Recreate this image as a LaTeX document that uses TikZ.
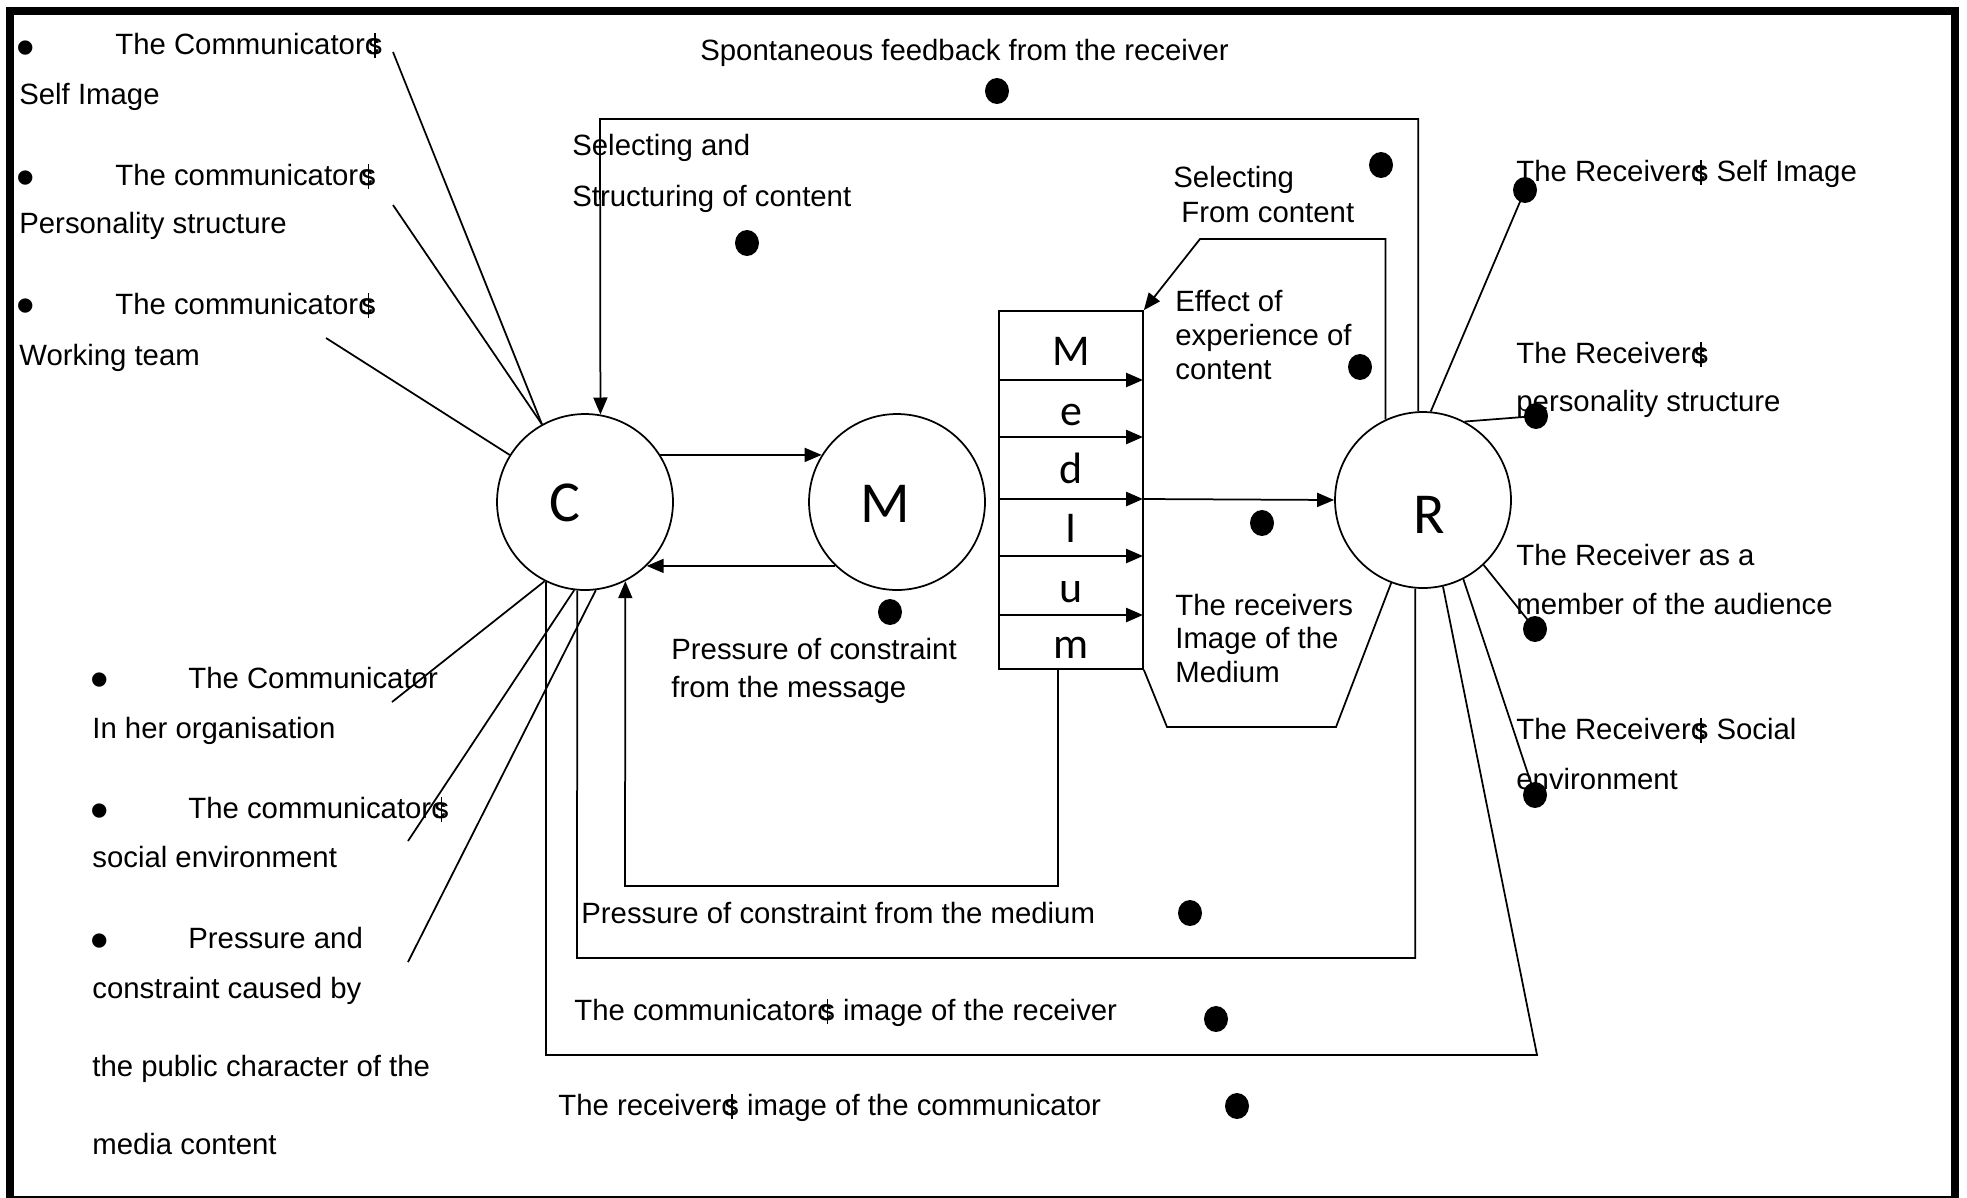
\documentclass[tikz,border=0pt]{standalone}
\usepackage{fontspec}
\setmainfont{Liberation Sans}
\newfontfamily\calfont{Carlito}
\usetikzlibrary{arrows.meta,shapes.geometric}
\newcommand\qs{\rlap{c}\hspace{0.1em}\rlap{\hspace{0.22em}\rule[-0.12em]{0.06em}{0.84em}}s}
\begin{document}
\begin{tikzpicture}[x=0.02cm, y=-0.02cm,
  ln/.style={line width=0.035cm},
  arr/.style={ln, -{Triangle[length=0.34cm,width=0.28cm]}},
  marr/.style={line width=0.05cm, -{Triangle[length=0.34cm,width=0.28cm]}},
  txt/.style={inner sep=0pt, anchor=base west, font=\fontsize{16.7}{20}\selectfont},
  bul/.style={inner sep=0pt, anchor=base west, font=\fontsize{30}{30}\selectfont},
  big/.style={inner sep=0pt, anchor=base, font=\calfont\fontsize{33}{36}\selectfont},
  medl/.style={inner sep=0pt, anchor=base, font=\calfont\fontsize{25}{28}\selectfont},
  ball/.style={ellipse, fill=black, minimum width=0.48cm, minimum height=0.52cm, inner sep=0pt},
  circ/.style={circle, draw, ln, minimum size=3.52cm, inner sep=0pt}]
\useasboundingbox (0,0) rectangle (1967,1197);
\draw[line width=0.17cm] (10,11) rectangle (1955,1200);

% main circles
\node[circ] (C) at (585,502) {};
\node[circ] (M) at (897,502) {};
\node[circ] (R) at (1423,500) {};
\node[big] (Cl) at (565,521) {C};
\node[big] (Ml) at (885,522) {M};
\node[big] (Rl) at (1429,533) {R};

% medium box
\node[draw, ln, minimum width=2.88cm, minimum height=7.16cm, inner sep=0pt] (Med) at (1071,490) {};
\node[medl] (m1) at (1071,365) {M};
\node[medl] (m2) at (1071,425) {e};
\node[medl] (m3) at (1071,483) {d};
\node[medl] (m4) at (1071,542) {I};
\node[medl] (m5) at (1071,602) {u};
\node[medl] (m6) at (1071,658) {m};
\foreach \i/\y in {1/380,2/437,3/499,4/556,5/615} {
  \coordinate (al\i) at (999,\y);
  \coordinate (ar\i) at (1143,\y);
  \draw[marr] (al\i) -- (ar\i);
}
\draw[arr] (ar3) -- (R.west);

% C <-> M
\draw[arr] (C.32) -- (M.148);
\draw[arr] (M.-134) -- (C.-46);

% feedback loops
\coordinate (fbL) at (600,119);
\draw[arr] (R.93) |- (fbL) -- (C.80);
\coordinate (mb) at (1058,669);
\coordinate (mbl) at (625,886);
\draw[arr] (mb) |- (mbl) -- (C.-63);
\coordinate (l2) at (577,958);
\draw[ln] (R.-95) |- (l2) -- (C.-95);
\coordinate (l3b) at (1537,1055);
\draw[ln] (C.-116) |- (l3b) -- (R.-77);

% selecting from content
\coordinate (sf2) at (1200,239);
\draw[arr] (R.115.6) |- (sf2) -- (Med.north east);
% lower polygon
\coordinate (lp1) at (1167,727);
\coordinate (lp2) at (1336,727);
\draw[ln] (Med.south east) -- (lp1) -- (lp2) -- (R.-111);

% dots
\node[ball] (d1) at (997,91) {};
\node[ball] (d2) at (747,243) {};
\node[ball] (d3) at (1381,165) {};
\node[ball] (d4) at (1360,367) {};
\node[ball] (d5) at (1262,523) {};
\node[ball] (d6) at (890,612) {};
\node[ball] (d7) at (1190,913) {};
\node[ball] (d8) at (1216,1019) {};
\node[ball] (d9) at (1237,1106) {};
\node[ball] (d10) at (1525,190) {};
\node[ball] (d11) at (1536,416) {};
\node[ball] (d12) at (1535,629) {};
\node[ball] (d13) at (1535,795) {};

% right lines
\draw[ln] (R.85) -- (d10.center);
\draw[ln] (R.62) -- (d11.center);
\draw[ln] (R.-47) -- (d12.center);
\draw[ln] (R.-63) -- (d13.center);

% left lines
\coordinate (p1) at (393,52);
\coordinate (p2) at (393,205);
\coordinate (p3) at (326,338);
\coordinate (p4) at (392,702);
\coordinate (p5) at (408,841);
\coordinate (p6) at (408,962);
\draw[ln] (p1) -- (C.119);
\draw[ln] (p2) -- (C.119);
\draw[ln] (p3) -- (C.148);
\draw[ln] (p4) -- (C.-117);
\draw[ln] (p5) -- (C.-97);
\draw[ln] (p6) -- (C.-83);

% left texts
\node[bul] (b1) at (16,65) {•};
\node[bul] (b2) at (16,195) {•};
\node[bul] (b3) at (16,323) {•};
\node[bul] (b4) at (90,697) {•};
\node[bul] (b5) at (90,828) {•};
\node[bul] (b6) at (90,958) {•};
\node[txt] (tl1) at (115,54) {The Communicator\qs};
\node[txt] (tl2) at (19,104) {Self Image};
\node[txt] (tl3) at (115,185) {The communicator\qs};
\node[txt] (tl4) at (19,233) {Personality structure};
\node[txt] (tl5) at (115,314) {The communicator\qs};
\node[txt] (tl6) at (19,365) {Working team};
\node[txt] (bl1) at (188,688) {The Communicator};
\node[txt] (bl2) at (92,738) {In her organisation};
\node[txt] (bl3) at (188,818) {The communicator\qs};
\node[txt] (bl4) at (92,867) {social environment};
\node[txt] (bl5) at (188,948) {Pressure and};
\node[txt] (bl6) at (92,998) {constraint caused by};
\node[txt] (bl7) at (92,1076) {the public character of the};
\node[txt] (bl8) at (92,1154) {media content};

% middle texts
\node[txt] (s1) at (700,60) {Spontaneous feedback from the receiver};
\node[txt] (s2) at (572,155) {Selecting and};
\node[txt] (s3) at (572,206) {Structuring of content};
\node[txt] (s4) at (1173,187) {Selecting};
\node[txt] (s5) at (1181,222) {From content};
\node[txt] (s6) at (1175,311) {Effect of};
\node[txt] (s7) at (1175,345) {experience of};
\node[txt] (s8) at (1175,379) {content};
\node[txt] (s9) at (1175,615) {The receivers};
\node[txt] (s10) at (1175,648) {Image of the};
\node[txt] (s11) at (1175,682) {Medium};
\node[txt] (s12) at (671,659) {Pressure of constraint};
\node[txt] (s13) at (671,697) {from the message};
\node[txt] (s14) at (581,923) {Pressure of constraint from the medium};
\node[txt] (s15) at (574,1020) {The communicator\qs{} image of the receiver};
\node[txt] (s16) at (558,1115) {The receiver\qs{} image of the communicator};

% right texts
\node[txt] (r1) at (1516,181) {The Receiver\qs{} Self Image};
\node[txt] (r2) at (1516,363) {The Receiver\qs};
\node[txt] (r3) at (1516,411) {personality structure};
\node[txt] (r4) at (1516,565) {The Receiver as a};
\node[txt] (r5) at (1516,614) {member of the audience};
\node[txt] (r6) at (1516,739) {The Receiver\qs{} Social};
\node[txt] (r7) at (1516,789) {environment};
\end{tikzpicture}
\end{document}
